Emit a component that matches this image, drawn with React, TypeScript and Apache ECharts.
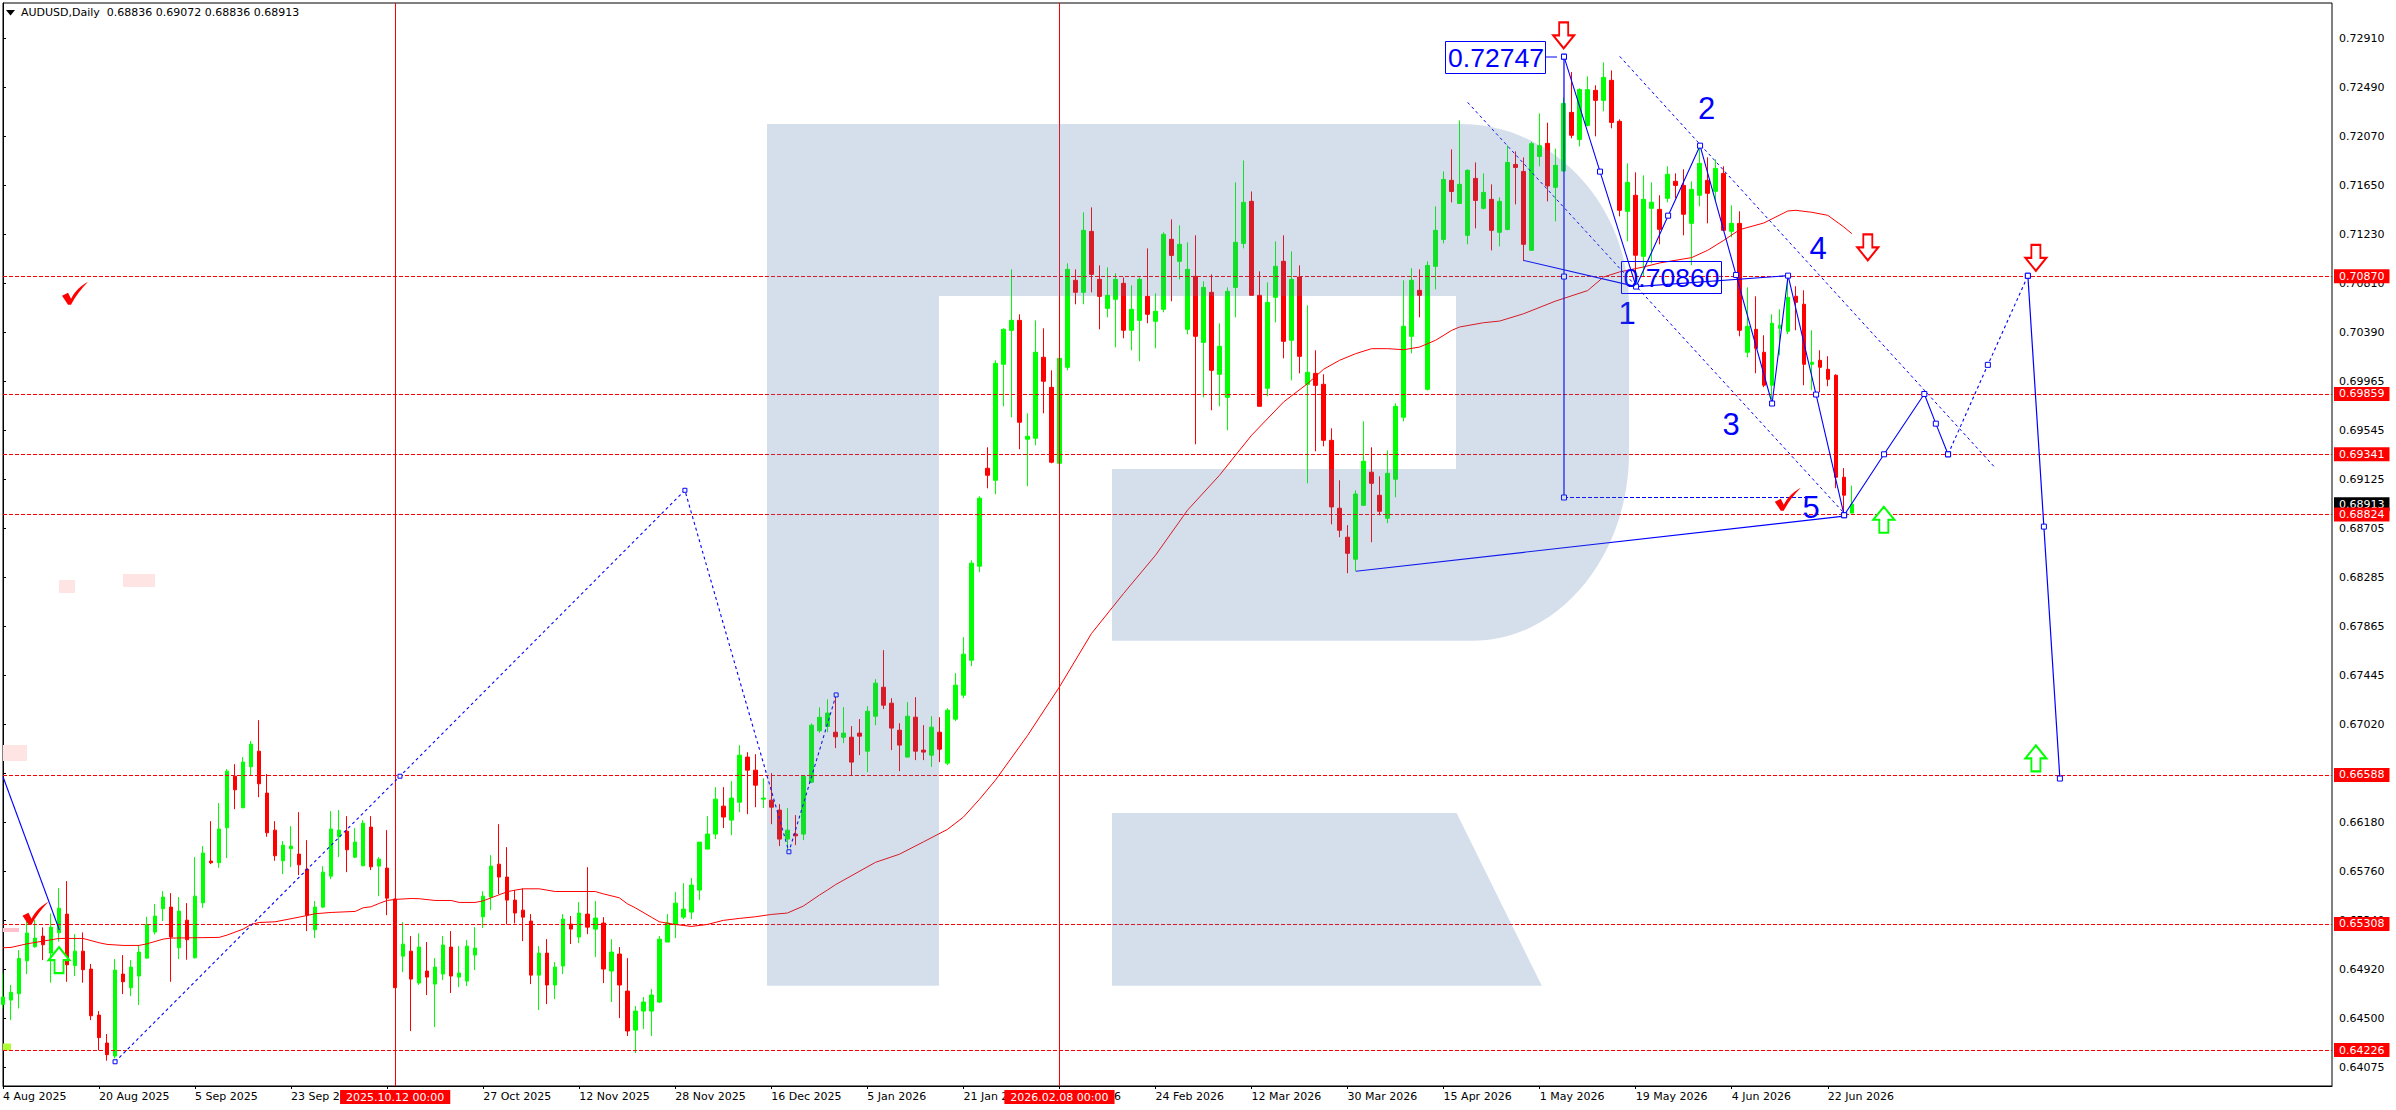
import React, { useEffect, useRef } from "react";
import * as echarts from "echarts";

// [open, close, low, high], one row per daily bar
const candles: number[][] = [
[.64618,.64681,.64583,.64884],[.64655,.64721,.64483,.64784],[.64709,.65012,.64583,.65084],[.64992,.65230,.64878,.65384],
[.65113,.65187,.65104,.65341],[.65204,.65130,.64998,.65279],[.65058,.65281,.64804,.65399],[.65233,.65444,.65156,.65616],
[.65393,.64958,.64812,.65676],[.64950,.65075,.64861,.65221],[.65075,.64915,.64804,.65236],[.64921,.64520,.64483,.64964],
[.64526,.64332,.64223,.64560],[.64286,.64186,.64134,.64363],[.64174,.64912,.64154,.65007],[.64878,.64812,.64706,.65041],
[.64761,.64938,.64689,.64998],[.64861,.65067,.64612,.65127],[.65015,.65304,.65010,.65370],[.65239,.65376,.65219,.65479],
[.65439,.65539,.65333,.65590],[.65453,.65196,.64812,.65573],[.65104,.65419,.65007,.65539],[.65341,.65173,.65001,.65487],
[.65018,.65547,.65012,.65882],[.65490,.65917,.65447,.65977],[.65848,.65834,.65822,.66191],[.65834,.66123,.65791,.66346],
[.66134,.66620,.65874,.66638],[.66577,.66460,.66294,.66680],[.66306,.66698,.66303,.66741],[.66658,.66852,.66586,.66878],
[.66792,.66512,.66397,.67058],[.66432,.66091,.66057,.66595],[.66114,.65894,.65851,.66191],[.65851,.65985,.65736,.66020],
[.65954,.65977,.65796,.66148],[.65908,.65816,.65728,.66268],[.65779,.65384,.65247,.66028],[.65259,.65453,.65187,.65505],
[.65453,.65753,.65445,.65805],[.65719,.66123,.65693,.66277],[.66057,.66114,.65882,.66286],[.66105,.65945,.65753,.66234],
[.65882,.66011,.65874,.66131],[.65808,.66174,.65805,.66200],[.66140,.65799,.65771,.66234],[.65805,.65865,.65547,.65882],
[.65788,.65530,.65384,.66114],[.65522,.64761,.64761,.65527],[.65032,.65135,.64895,.65324],[.65075,.64835,.64389,.65204],
[.64801,.65110,.64784,.65227],[.64904,.64852,.64698,.65153],[.64792,.64938,.64423,.65015],[.64878,.65127,.64827,.65204],
[.65110,.64861,.64715,.65247],[.64852,.64887,.64766,.65118],[.64818,.65118,.64775,.65170],[.65041,.65101,.64912,.65281],
[.65370,.65547,.65273,.65590],[.65539,.65805,.65427,.65899],[.65822,.65711,.65565,.66165],[.65711,.65513,.65304,.65968],
[.65513,.65402,.65313,.65599],[.65427,.65367,.65161,.65613],[.65333,.64869,.64792,.65393],[.64869,.65058,.64569,.65118],
[.65058,.64784,.64620,.65178],[.64784,.64938,.64663,.64981],[.64947,.65350,.64878,.65393],[.65307,.65264,.65136,.65376],
[.65196,.65402,.65144,.65496],[.65393,.65281,.65221,.65796],[.65264,.65359,.65024,.65505],[.65316,.64921,.64801,.65367],
[.64904,.65067,.64638,.65178],[.65050,.64784,.64500,.65110],[.64732,.64389,.64346,.65015],[.64397,.64560,.64200,.64603],
[.64560,.64638,.64406,.64681],[.64560,.64698,.64346,.64749],[.64638,.65178,.64629,.65204],[.65153,.65316,.65153,.65393],
[.65304,.65487,.65187,.65582],[.65367,.65436,.65350,.65659],[.65410,.65642,.65350,.65702],[.65599,.66011,.65513,.66011],
[.65951,.66080,.65951,.66234],[.66080,.66380,.66037,.66483],[.66320,.66226,.66131,.66483],[.66200,.66389,.66071,.66535],
[.66354,.66758,.66268,.66843],[.66741,.66629,.66251,.66783],[.66629,.66500,.66311,.66766],[.66380,.66389,.66303,.66560],
[.66371,.66311,.66165,.66603],[.66286,.66037,.65977,.66337],[.66037,.66114,.65942,.66303],[.66080,.66065,.65985,.66243],
[.66080,.66577,.66028,.66577],[.66526,.67015,.66517,.67030],[.66967,.67083,.66950,.67168],[.67004,.67119,.66955,.67237],
[.66955,.66915,.66818,.67274],[.66912,.66947,.66861,.67170],[.66912,.66698,.66583,.67007],[.66947,.66921,.66758,.67067],
[.66792,.67135,.66612,.67178],[.67092,.67376,.67015,.67410],[.67341,.67187,.67153,.67659],[.67204,.66990,.66801,.67247],
[.66972,.66844,.66620,.67032],[.66741,.67092,.66741,.67213],[.67084,.66792,.66715,.67256],[.66801,.66784,.66715,.67015],
[.66758,.66998,.66658,.67092],[.66955,.66809,.66698,.67084],[.66689,.67144,.66672,.67161],[.67067,.67359,.67050,.67462],
[.67273,.67625,.67247,.67771],[.67573,.68406,.67522,.68431],[.68380,.68964,.68328,.68981],[.69221,.69161,.69049,.69401],
[.69118,.70122,.68998,.70148],[.70114,.70414,.69753,.70423],[.70405,.70491,.69659,.70929],[.70491,.69616,.69384,.70543],
[.69470,.69496,.69067,.69693],[.69479,.70217,.69418,.70491],[.70174,.69968,.69693,.70423],[.69916,.69273,.69264,.70062],
[.69264,.70165,.69264,.70165],[.70088,.70929,.70062,.70981],[.70835,.70732,.70629,.70929],[.70732,.71264,.70629,.71418],
[.71255,.70886,.70732,.71461],[.70843,.70697,.70414,.70963],[.70594,.70706,.70517,.70946],[.70672,.70843,.70260,.70895],
[.70809,.70406,.70337,.70860],[.70406,.70586,.70234,.70792],[.70491,.70843,.70140,.70860],[.70697,.70543,.70466,.71109],
[.70483,.70569,.70251,.70723],[.70586,.71230,.70560,.71247],[.71187,.71049,.70655,.71358],[.70998,.71144,.70843,.71307],
[.70414,.70929,.70371,.71161],[.70869,.70354,.69427,.71221],[.70302,.70774,.69830,.70826],[.70732,.70062,.69719,.70886],
[.70028,.70268,.69753,.70465],[.69830,.70740,.69547,.70774],[.70774,.71161,.70517,.71676],[.71152,.71504,.71109,.71864],
[.71513,.70706,.70706,.71598],[.70706,.69753,.69753,.70912],[.69908,.70646,.69839,.70817],[.70689,.70955,.70474,.71169],
[.70998,.70311,.70165,.71221],[.70320,.70843,.69976,.71083],[.70863,.70182,.70036,.70963],[.69942,.70045,.69092,.70620],
[.70036,.69933,.69367,.70234],[.69942,.69461,.69410,.70028],[.69461,.68889,.68740,.69564],[.68878,.68689,.68629,.69118],
[.68629,.68491,.68320,.68732],[.68440,.69000,.68337,.69032],[.68903,.69281,.68903,.69624],[.69187,.69092,.68586,.69401],
[.68989,.68852,.68818,.69152],[.68792,.69178,.68749,.69375],[.69127,.69753,.68972,.69779],[.69659,.70440,.69624,.70835],
[.70354,.70835,.70208,.70938],[.70749,.70706,.70517,.70929],[.69899,.70963,.69890,.70998],[.70955,.71264,.70757,.71470],
[.71186,.71701,.71152,.71770],[.71693,.71598,.71504,.71959],[.71495,.71659,.71493,.72208],[.71221,.71779,.71144,.71787],
[.71710,.71521,.71281,.71847],[.71453,.71590,.71444,.71753],[.71530,.71264,.71092,.71659],[.71247,.71513,.71126,.71547],
[.71272,.71847,.71264,.71993],[.71830,.71804,.71487,.71942],[.71770,.71144,.71000,.71890],[.71093,.72008,.71087,.72025],
[.71899,.71991,.71814,.72268],[.72011,.71645,.71513,.72188],[.71633,.71822,.71341,.71965],[.71773,.72354,.71773,.72404],
[.72277,.72080,.72054,.72623],[.72045,.72474,.71985,.72483],[.72165,.72472,.72157,.72586],[.72466,.72380,.72071,.72509],
[.72380,.72577,.72286,.72706],[.72552,.72191,.72140,.72637],[.72200,.71436,.71384,.72217],[.71427,.71676,.71170,.71839],
[.71565,.71050,.70892,.71762],[.71041,.71530,.70869,.71736],[.71453,.71505,.70981,.71676],[.71444,.71273,.71144,.71565],
[.71539,.71745,.71505,.71814],[.71685,.71650,.71539,.71753],[.71650,.71402,.71221,.71788],[.71324,.71616,.70964,.71685],
[.71565,.71839,.71470,.71985],[.71693,.71582,.71324,.71891],[.71599,.71796,.71522,.71874],[.71753,.71264,.71264,.71814],
[.71256,.71324,.71204,.71479],[.71324,.70406,.70354,.71427],[.70217,.70440,.70174,.70775],[.70414,.70251,.70037,.70698],
[.70217,.69934,.69917,.70363],[.69934,.70466,.69814,.70543],[.70423,.70449,.70191,.70586],[.70397,.70689,.70372,.70869],
[.70698,.70646,.70406,.70784],[.70629,.70114,.69934,.70749],[.70114,.70131,.69891,.70406],[.70148,.70088,.69874,.70234],
[.70071,.69985,.69925,.70183],[.70020,.69144,.69050,.70028],[.69144,.68990,.68827,.69222],[.68836,.68913,.68836,.69072],
];

// moving average as [bar, value]
const movingAverage: number[][] = [
[0,.65104],[1,.65107],[3,.65138],[5,.65161],[7,.65184],[10,.65184],[12,.65147],[13,.65133],[15,.65124],[17,.65124],[18,.65138],[20,.65178],[21,.65187],[27,.65193],[28,.65213],[30,.65264],[31,.65304],[32,.65321],[34,.65327],[37,.65367],[39,.65396],[41,.65407],[44,.65416],[45,.65447],[46,.65456],[47,.65485],[48,.65510],[49,.65519],[51,.65527],
[52,.65525],[54,.65510],[56,.65510],[57,.65493],[59,.65493],[60,.65507],[61,.65533],[63,.65585],[64,.65599],[65,.65610],[67,.65610],[69,.65587],[74,.65587],[75,.65567],[77,.65533],[78,.65482],[79,.65447],[81,.65367],[82,.65327],[84,.65304],[85,.65296],[86,.65287],[88,.65304],[90,.65339],[92,.65356],[94,.65370],[96,.65390],[98,.65402],[100,.65462],[102,.65556],[103,.65599],
[104,.65645],[109,.65837],[112,.65907],[115,.66013],[118,.66120],[120,.66226],[122,.66378],[124,.66543],[128,.66925],[132,.67344],[136,.67802],[140,.68145],[144,.68474],[148,.68861],[152,.69161],[154,.69333],[156,.69504],
[160,.69790],[163,.69948],[165,.70071],[167,.70148],[169,.70205],[171,.70248],[173,.70248],[175,.70239],[177,.70262],[179,.70320],[181,.70405],[182,.70434],[185,.70471],[187,.70485],[190,.70548],[194,.70657],[198,.70747],
[200,.70864],[202,.70907],[205,.70950],[207,.70984],[211,.71030],[213,.71093],[215,.71178],[217,.71270],[220,.71327],[223,.71430],[224,.71436],[226,.71419],[228,.71393],[230,.71293],[231,.71236],
];

const barCount = 292;
const dateLabels = ["4 Aug 2025","20 Aug 2025","5 Sep 2025","23 Sep 2025","9 Oct 2025","27 Oct 2025","12 Nov 2025","28 Nov 2025","16 Dec 2025","5 Jan 2026","21 Jan 2026","6 Feb 2026","24 Feb 2026","12 Mar 2026","30 Mar 2026","15 Apr 2026","1 May 2026","19 May 2026","4 Jun 2026","22 Jun 2026"];
const priceTicks = [.7291,.7249,.7207,.7165,.7123,.7081,.7039,.69965,.69545,.69125,.68705,.68285,.67865,.67445,.6702,.666,.6618,.6576,.6534,.6492,.645,.64075];
const levels = [.7087,.69859,.69341,.68824,.66588,.65308,.64226];
const bidPrice = .68913;
const timeLines: [number, string][] = [[49, "2025.10.12 00:00"], [132, "2026.02.08 00:00"]];

const wavePath = [[195.04,.72755],[199.54,.71768],[204.05,.70781],[208.05,.7139],[212.04,.71991],[216.54,.70881],[221.04,.69777],[223.04,.70875],[226.54,.69854],[230.04,.68818]];
const forecastA = [[230.04,.68818],[235.03,.69341],[240.06,.69859],[241.5,.69604],[243.03,.69341]];
const forecastB = [[243.03,.69341],[248,.70109],[253,.70874]];
const forecastC = [[253,.70874],[255,.6872],[257,.66557]];
const rangeStem = [[195.04,.72755],[195.04,.70867],[195.04,.6897]];
const rangeFoot = [[195.04,.6897],[225.5,.6897]];
const fanLine = [[190.02,.71005],[204.05,.70781],[223.04,.70875]];
const baseLine = [[169.04,.68337],[230.04,.6881]];
const channelLow = [[183,.72363],[230.04,.68835]];
const channelHigh = [[202,.72758],[248.8,.69234]];
const oldSolid = [[0,.66572],[7.04,.65256]];
const oldDotted = [[14,.64125],[49.6,.66577],[85.2,.69032],[98.2,.65928],[104.1,.67275]];

const arrowsDown = [[195,.72938],[233,.71118],[254,.71028]];
const arrowsUp = [[235,.68779],[254,.6673],[7,.64998]];
const checks = [[9,.70723],[4.06,.654],[223,.68955]];

const waveNumbers = [["1",1627,313],["2",1706.5,108],["3",1731,424],["4",1818,248],["5",1811,507]];
const title = "AUDUSD,Daily  0.68836 0.69072 0.68836 0.68913";

const FONT = "'DejaVu Sans', sans-serif";
const BLUE = "#0000ff";
const RED = "#ff0000";

const LOGO = "M767 124 H1461 C1553 124 1629 205 1629 304 V453 C1629 555 1560 640.7 1473 640.7 H1112 V469 H1456 V296 H939 V985.8 H767 Z M1112 813 H1456.6 L1541.8 985.8 H1112 Z";
echarts.graphic.registerShape("logo", echarts.graphic.extendPath(LOGO, {}));

const categories = Array.from({ length: barCount }, (_, i) => (i % 12 === 0 && dateLabels[i / 12]) || "");
const isDateTick = (i: number) => i % 12 === 0 && i <= 228;

function blueLine(data: number[][], width: number, dashed: any, squares: boolean, size = 5) {
  return {
    type: "line", xAxisIndex: 1, yAxisIndex: 0, data, z: 6, silent: true,
    symbol: squares ? "rect" : "none", symbolSize: size, showSymbol: squares, showAllSymbol: true,
    itemStyle: { color: "#ffffff", borderColor: BLUE, borderWidth: 1 },
    lineStyle: { color: BLUE, width, type: dashed || "solid" },
  };
}

function marker(data: number[][], path: string, size: number[], fill: string, stroke: string, borderWidth: number) {
  return {
    type: "scatter", xAxisIndex: 1, yAxisIndex: 0, data, z: 7, silent: true,
    symbol: "path://" + path, symbolSize: size,
    itemStyle: { color: fill, borderColor: stroke, borderWidth, opacity: 1 },
  };
}

const tag = (bg: string) => ({
  show: true, position: "end", distance: 2, fontFamily: FONT, fontSize: 11, color: "#ffffff",
  backgroundColor: bg, padding: [1, 5, 1, 5], lineHeight: 12,
});

export default function App() {
  const ref = useRef<HTMLDivElement>(null);
  useEffect(() => {
    const chart = echarts.init(ref.current!, undefined, { renderer: "svg" });
    const text = (t: string, x: number, y: number, size: number, align = "center") => ({
      type: "text", z: 50, silent: true,
      style: { text: t, x, y, fill: BLUE, font: `${size}px 'Liberation Sans', Arial, sans-serif`, textAlign: align, textVerticalAlign: "middle" },
    });
    const box = (x: number, y: number, w: number, h: number) => ({
      type: "rect", z: 50, silent: true, shape: { x, y, width: w, height: h }, style: { fill: "none", stroke: BLUE, lineWidth: 1 },
    });
    const patch = (x: number, y: number, w: number, h: number, fill: string) => ({
      type: "rect", z: 1, silent: true, shape: { x, y, width: w, height: h }, style: { fill },
    });
    chart.setOption({
      animation: false,
      backgroundColor: "#ffffff",
      grid: { left: 3, right: 64, top: 3, bottom: 24, show: true, borderColor: "#000000", borderWidth: 1, backgroundColor: "transparent" },
      xAxis: [
        {
          type: "category", data: categories, boundaryGap: false, position: "bottom",
          axisLine: { show: true, lineStyle: { color: "#000", width: 1 } },
          axisTick: { show: true, length: 3, interval: (i: number) => isDateTick(i), lineStyle: { color: "#000" } },
          axisLabel: { show: true, interval: (i: number) => isDateTick(i), align: "left", margin: 5, fontFamily: FONT, fontSize: 11, color: "#000", hideOverlap: false },
          splitLine: { show: false },
        },
        { type: "value", min: 0, max: barCount - 1, show: false, splitLine: { show: false } },
      ],
      yAxis: {
        type: "value", position: "right", min: .63917, max: .73216, scale: true,
        axisLine: { show: true, lineStyle: { color: "#000", width: 1 } },
        axisTick: { show: true, length: 3, customValues: priceTicks, lineStyle: { color: "#000" } },
        axisLabel: { show: true, customValues: priceTicks, margin: 7, fontFamily: FONT, fontSize: 11, color: "#000", formatter: (v: number) => v.toFixed(5), hideOverlap: false },
        splitLine: { show: false },
      },
      series: [
        {
          type: "candlestick", xAxisIndex: 0, yAxisIndex: 0, data: candles, barWidth: 4, z: 3, silent: true,
          itemStyle: { color: "#00ff00", color0: RED, borderColor: "#00ff00", borderColor0: RED, borderWidth: 1 },
        },
        {
          type: "line", xAxisIndex: 1, yAxisIndex: 0, data: movingAverage, symbol: "none", smooth: false, z: 4, silent: true,
          lineStyle: { color: RED, width: 1 },
        },
        {
          type: "line", xAxisIndex: 0, yAxisIndex: 0, data: [], z: 5, silent: true,
          markLine: {
            silent: true, symbol: "none", animation: false, precision: 5,
            data: [
              { yAxis: bidPrice, lineStyle: { color: "rgba(0,0,0,0)", width: 0 }, label: { ...tag("#000000"), formatter: bidPrice.toFixed(5) } },
              ...levels.map((v) => ({
                yAxis: v,
                lineStyle: { color: RED, width: 1, type: [4, 2] },
                label: { ...tag(RED), formatter: v.toFixed(5) },
              })),
              ...timeLines.map(([i, s]) => ({
                xAxis: i,
                lineStyle: { color: RED, width: 1, type: "solid" },
                label: { ...tag(RED), position: "start", distance: 4, formatter: s, padding: [1, 6, 1, 6] },
              })),
            ],
          },
        },
        blueLine(wavePath, 1.1, null, true),
        blueLine(forecastA, 1.1, null, true),
        blueLine(forecastB, 1.1, [3, 3], true),
        blueLine(forecastC, 1.2, null, true),
        blueLine(rangeStem, 1.2, null, true),
        blueLine(rangeFoot, 1.1, [4, 2], false),
        blueLine(fanLine, 1.1, null, false),
        blueLine(baseLine, 1.2, null, false),
        blueLine(channelLow, 1, [3, 3], false),
        blueLine(channelHigh, 1, [3, 3], false),
        blueLine(oldSolid, 1.1, null, false),
        blueLine(oldDotted, 1.1, [3, 3], true, 4),
        marker(arrowsDown, "M6 0 H15 V13 H21 L10.5 26 L0 13 H6 Z", [21, 26], "#ffffff", RED, 2),
        marker(arrowsUp, "M10.5 0 L21 13 H15 V26 H6 V13 H0 Z", [21, 26], "#ffffff", "#00ff00", 2),
        marker(checks, "M0 14 L6 11 L9 17 C13 9 19 4 26 0 C19 7 13 15 9 23 L6 23 Z", [26, 23], RED, RED, 0),
      ],
      graphic: {
        elements: [
          patch(59, 580, 16, 13, "#ffe4e4"),
          patch(123, 574, 32, 13, "#ffe4e4"),
          patch(3, 745, 24, 16, "#ffe4e4"),
          patch(3, 928, 16, 4, "#ffc0cb"),
          patch(3, 1043.5, 8, 7, "#adff2f"),
          { type: "polygon", z: 50, silent: true, shape: { points: [[6, 10], [15, 10], [10.5, 15.5]] }, style: { fill: "#000" } },
          { type: "text", z: 50, silent: true, style: { text: title, x: 21, y: 12.5, fill: "#000", font: `11px ${FONT}`, textAlign: "left", textVerticalAlign: "middle" } },
          box(1445.5, 41.5, 100, 32),
          text("0.72747", 1496, 58, 26.5),
          { type: "line", z: 50, silent: true, shape: { x1: 1546, y1: 57, x2: 1557, y2: 57 }, style: { stroke: BLUE, lineWidth: 1 } },
          box(1621.5, 261.5, 100, 32),
          text("0.70860", 1671.5, 278, 26.5),
          ...waveNumbers.map(([t, x, y]) => text(t as string, x as number, y as number, 31)),
          { type: "logo", x: 0, y: 0, z: 100, silent: true, style: { fill: "rgba(76,119,170,0.235)" } },
        ],
      },
    });
    return () => chart.dispose();
  }, []);
  return <div ref={ref} style={{ position: "absolute", left: 0, top: 0, width: 2396, height: 1110 }} />;
}
